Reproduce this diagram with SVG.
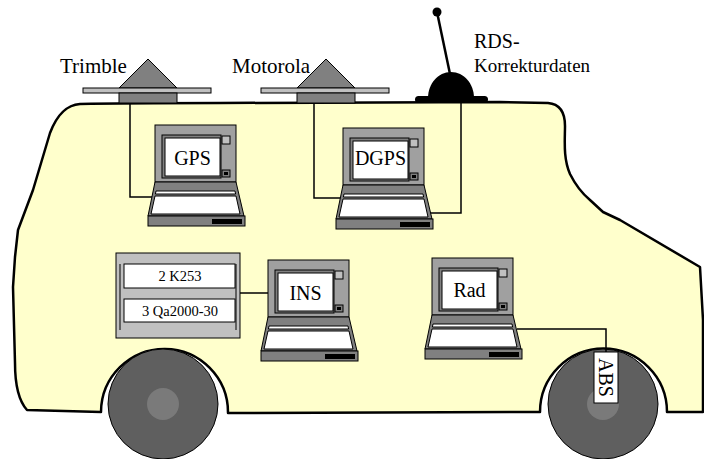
<svg xmlns="http://www.w3.org/2000/svg" xmlns:xlink="http://www.w3.org/1999/xlink" width="704" height="459" viewBox="0 0 704 459">
  <style>
    .lbl { font-family: "Liberation Serif", "Times New Roman", serif; font-size: 20px; fill: #000; }
    .big { font-size: 21px; }
    .small { font-family: "Liberation Serif", "Times New Roman", serif; font-size: 14.5px; fill: #000; }
    .wire { fill: none; stroke: #000; stroke-width: 1.5; }
    .edge { stroke: #000; stroke-width: 1; }
  </style>
  <defs>
    <!-- generic laptop, origin at the monitor's top-left corner -->
    <g id="laptop">
      <rect class="edge" x="0" y="0" width="81" height="57" fill="#a0a0a0"/>
      <rect class="edge" x="7" y="10" width="59" height="43" fill="#808080"/>
      <rect class="edge" x="10" y="13" width="55" height="38" fill="#ffffff"/>
      <rect class="edge" x="67" y="11" width="8" height="8" fill="#c0c0c0"/>
      <rect class="edge" x="67" y="45" width="8" height="7" fill="#808080"/>
      <rect x="69" y="47" width="4" height="3" fill="#000"/>
      <polygon class="edge" points="0,57 81,57 89,91 -7,91" fill="#808080"/>
      <polygon class="edge" points="1,66 80,66 80.6,69 0.4,69" fill="#ffffff"/>
      <polygon class="edge" points="0,71 81,71 85,89 -4,89" fill="#ffffff"/>
      <rect class="edge" x="-7" y="91" width="97" height="10" fill="#808080"/>
      <rect x="57" y="94" width="30" height="5" fill="#000"/>
    </g>
    <!-- roof-mounted GPS antenna, origin at the apex -->
    <g id="antenna">
      <polygon class="edge" points="0,0 29,29 -29,29" fill="#808080"/>
      <rect class="edge" x="-65" y="29" width="128" height="5" fill="#c0c0c0"/>
      <rect class="edge" x="-29" y="34" width="58" height="10" fill="#808080"/>
    </g>
  </defs>

  <rect width="704" height="459" fill="#ffffff"/>

  <!-- van body -->
  <g id="van">
    <path d="M80,104 C120,103 160,103 220,103 C320,102 420,102 500,102 L548,103 C560,104 565,112 565,126 C565,140 563,158 570,174 C576,186 584,195 590,200 L603,212 L620,220 L700,267 L703,320 L703,412 L667,412 A63,63 0 1 0 540,412 L228,413 A63,63 0 1 0 101,412 L27,410 C18,400 15,380 15,363 L13,287 L15,257 L18,230 L33,190 L50,133 C58,112 68,105 80,104 Z" fill="#ffffcc" stroke="#000" stroke-width="2.5" stroke-linejoin="round"/>
  </g>

  <!-- wheels -->
  <g id="wheel-rear">
    <circle cx="163" cy="404" r="55" fill="#5f5f5f" stroke="#000" stroke-width="1"/>
    <circle cx="163" cy="404" r="16" fill="#7a7a7a"/>
  </g>
  <g id="wheel-front">
    <circle cx="603" cy="404" r="55" fill="#5f5f5f" stroke="#000" stroke-width="1"/>
    <circle cx="603" cy="404" r="16" fill="#7a7a7a"/>
  </g>

  <!-- connectors -->
  <g id="connectors">
    <path class="wire" d="M130,103 V197 H156"/>
    <path class="wire" d="M314,103 V198 H343"/>
    <path class="wire" d="M461,103 V213 H428"/>
    <path class="wire" d="M240,293 H268" stroke-width="2"/>
    <path class="wire" d="M517,329 H606 V352"/>
  </g>

  <!-- antennas -->
  <g id="trimble">
    <use href="#antenna" x="148" y="59"/>
    <text class="lbl big" x="60" y="73">Trimble</text>
  </g>
  <g id="motorola">
    <use href="#antenna" x="326" y="59"/>
    <text class="lbl big" x="232" y="73">Motorola</text>
  </g>
  <g id="rds">
    <line x1="450" y1="74" x2="437" y2="12" stroke="#000" stroke-width="2.5"/>
    <circle cx="437" cy="12" r="4.5" fill="#000"/>
    <path d="M428,98 C428,84 438,72 451,72 C464,72 474,84 474,98 Z" fill="#000"/>
    <rect x="415" y="96" width="73" height="7" rx="3.5" fill="#000"/>
    <text class="lbl" x="474" y="48">RDS-</text>
    <text class="lbl" x="474" y="72" style="font-size:19px">Korrekturdaten</text>
  </g>

  <!-- receivers -->
  <g id="gps" transform="translate(155,125)">
    <use href="#laptop"/>
    <text class="lbl" x="37.5" y="40" text-anchor="middle">GPS</text>
  </g>
  <g id="dgps" transform="translate(343,128)">
    <use href="#laptop"/>
    <text class="lbl" x="37.5" y="37" text-anchor="middle">DGPS</text>
  </g>
  <g id="ins" transform="translate(268,260)">
    <use href="#laptop"/>
    <text class="lbl" x="37.5" y="40" text-anchor="middle">INS</text>
  </g>
  <g id="rad" transform="translate(432,258)">
    <use href="#laptop"/>
    <text class="lbl" x="37.5" y="39" text-anchor="middle">Rad</text>
  </g>

  <!-- inertial sensor unit -->
  <g id="sensors">
    <rect class="edge" x="116" y="253" width="124" height="85" fill="#c0c0c0"/>
    <line class="edge" x1="120" y1="264" x2="120" y2="330"/>
    <line class="edge" x1="236" y1="264" x2="236" y2="330"/>
    <rect class="edge" x="124" y="264" width="111" height="24" fill="#ffffff"/>
    <rect class="edge" x="124" y="299" width="111" height="23" fill="#ffffff"/>
    <text class="small" x="180" y="281" text-anchor="middle">2 K253</text>
    <text class="small" x="180" y="316" text-anchor="middle">3 Qa2000-30</text>
  </g>

  <!-- wheel speed sensor -->
  <g id="abs">
    <rect class="edge" x="594" y="352" width="24" height="51" fill="#ffffff"/>
    <text class="lbl" transform="translate(599,377.5) rotate(90)" x="0" y="0" text-anchor="middle">ABS</text>
  </g>
</svg>
